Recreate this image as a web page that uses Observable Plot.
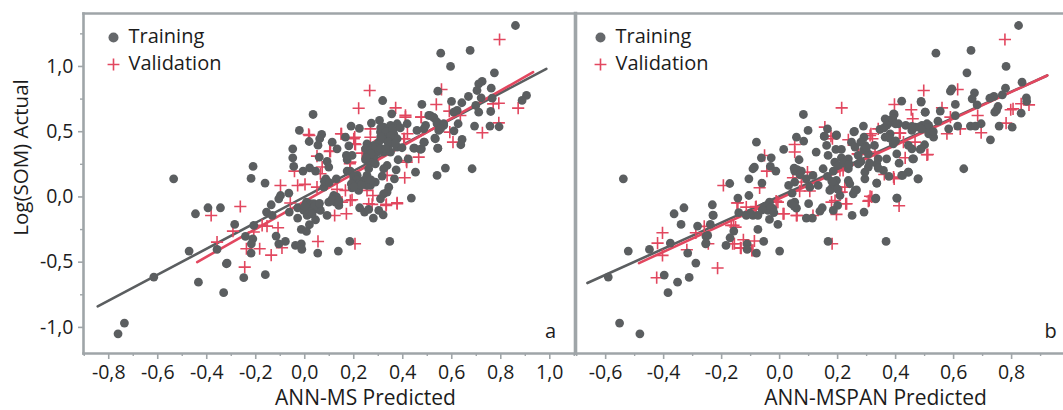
<!DOCTYPE html>
<html>
<head>
<meta charset="utf-8">
<script src="https://cdn.jsdelivr.net/npm/d3@7"></script>
<script src="https://cdn.jsdelivr.net/npm/@observablehq/plot@0.6"></script>
<style>
html,body{margin:0;padding:0;background:#fff;}
#chart{position:relative;width:1063px;height:410px;overflow:hidden;}
#chart svg{position:absolute;top:0;background:transparent;}
</style>
</head>
<body>
<div id="chart"></div>
<script>
const trainingA = [[.034,.632],[-.022,.51],[.069,.479],[.061,.446],[.018,.425],[.054,.397],[-.049,.369],[-.049,.3],[-.045,.234],[.059,.305],[.091,.272],[.098,.229],[-.007,.198],[.02,.223],[.044,.198],[-.211,.234],[-.219,.142],[-.162,.106],[.112,.42],[.132,.369],[.166,.458],[.189,.543],[.223,.525],[.18,.392],[.272,.566],[.305,.586],[.355,.637],[.322,.535],[.35,.548],[.377,.561],[.418,.561],[.336,.497],[.363,.484],[.322,.446],[.35,.433],[.377,.382],[.397,.377],[.254,.407],[.282,.395],[.248,.369],[.295,.344],[.322,.344],[.35,.344],[.282,.305],[.248,.285],[.268,.267],[.288,.254],[.173,.285],[.193,.318],[.17,.318],[.445,.374],[.476,.369],[.488,.42],[.458,.51],[.486,.522],[.506,.625],[.527,.607],[.54,.561],[.567,.561],[.547,.51],[.533,.446],[.543,.374],[.574,.221],[.54,.165],[.452,.19],[.422,.292],[.381,.285],[.336,.241],[.322,.216],[.373,.208],[.366,.139],[.316,.16],[.254,.165],[.261,.216],[.241,.126],[.214,.165],[.186,.198],[.173,.198],[.207,.114],[.193,.07],[.22,.05],[.288,.114],[.268,.088],[.343,.075],[.336,.037],[.322,.024],[.309,-.014],[.435,-.009],[.086,.139],[.084,.101],[.078,.075],[.129,.139],[-.065,.029],[-.099,.011],[-.106,-.014],[-.137,-.06],[-.156,-.116],[-.133,-.142],[-.063,-.116],[-.029,-.083],[-.029,-.162],[.007,-.04],[.023,-.052],[-.004,-.103],[.01,-.142],[.037,-.052],[.057,-.078],[.044,-.091],[.064,-.103],[.044,-.175],[.091,-.142],[.098,-.04],[.118,.011],[.125,-.04],[.139,-.065],[.224,-.083],[.244,-.116],[.261,-.096],[.302,-.103],[.32,-.137],[.28,-.162],[.019,-.213],[-.014,-.249],[.007,-.264],[.184,-.341],[.347,-.341],[.137,-.415],[.053,-.43],[-.014,-.359],[-.038,-.372],[-.012,-.402],[-.079,-.341],[-.106,-.359],[-.117,-.3],[-.208,-.218],[-.286,-.211],[-.242,-.303],[-.212,-.321],[-.218,-.359],[-.219,-.43],[-.32,-.512],[-.344,-.083],
[-.446,-.129],[-.395,-.083],[-.472,-.415],[-.358,-.402],[-.616,-.614],[-.434,-.653],[-.317,-.507],[-.331,-.734],[-.161,-.596],[-.249,-.619],[-.736,-.967],[-.762,-1.049],[-.535,.139],
[.86,1.314],[.555,1.102],[.675,1.123],[.595,1],[.774,.951],[.724,.885],[.71,.867],[.703,.816],[.761,.834],[.543,.811],[.599,.732],[.641,.722],[.668,.77],[.72,.76],[.765,.757],[.698,.701],[.71,.65],[.759,.655],[.905,.778],[.887,.74],[.622,.663],[.608,.65],[.478,.709],[.527,.607],[.513,.624],[.54,.573],[.567,.548],[.554,.522],[.493,.548],[.626,.561],[.693,.543],[.756,.543],[.793,.538],[.609,.507],[.531,.451],[.642,.441],[.637,.4],[.543,.372],[.486,.42],[.448,.374],[.472,.364],[.683,.216],[.318,.739],
[.309,.497],[.377,.446],[.343,.395],[.302,.42],[.268,.356],[.254,.318],[.227,.114],[.2,.139],[.214,.07],[.254,.088],[.03,-.091],[.016,-.091],
[.31,.53],[.33,.5],[.36,.52],[.39,.53],[.35,.47],[.31,.46],[.34,.42],[.37,.41],[.29,.38],[.31,.37],[.33,.37],[.27,.33],[.25,.3],[.2,.16],[.21,.13],[.22,.1],[.23,.09],[.19,.1],[.2,.08],[.27,.13],[.04,-.07],[.06,-.05],[.02,-.11],[.03,-.13],[0,-.07],[.13,0],[.11,-.02],[.14,-.03],[.08,.12],[.1,.11]];

const validationA = [[.016,.479],[.15,.484],[.204,.458],[.204,.407],[.102,.349],[.268,.458],[.234,.336],[.411,.625],[.476,.612],[.407,.446],[.465,.305],[.416,.267],[.408,.147],[.186,.267],[-.042,.198],[.071,.229],[.064,.178],[.05,.075],[-.099,.088],[-.029,.088],[.001,.096],[.132,.058],[.166,.05],[-.059,-.047],[-.263,-.073],[-.174,-.218],[-.154,-.224],[-.109,-.236],[-.208,-.269],[-.293,-.262],[-.238,-.397],[-.184,-.397],[-.137,-.446],[-.093,-.39],[.054,-.341],[.205,-.359],[-.245,-.538],[.122,-.142],[.17,-.129],[.377,-.052],[.332,-.065],[.261,-.052],[.278,.011],[.193,-.022],[.152,-.04],[.254,.05],[.336,.165],
[.795,1.207],[.265,.816],[.22,.68],[.558,.824],[.537,.709],[.59,.658],[.371,.683],[.411,.612],[.475,.612],[.635,.624],[.769,.713],[.792,.718],[.871,.681],[.792,.568],[.725,.492],[.605,.42],[.592,.497],[.415,.279],[.019,.471],[.148,.484],[.2,.446],[.207,.402],[.306,.433],[.404,.446],[.105,.351],[.05,.313],[.184,.254],[.268,.522],[.186,-.027],[.275,-.057],[.333,-.057],[.377,-.045],[.419,.484],
[-.382,-.142],[-.358,-.346]];

const trainingB = [[.082,.632],[.098,.51],[.058,.458],[.083,.428],[-.08,.42],[.014,.364],[-.063,.3],[-.029,.3],[.067,.285],[-.087,.229],[-.092,.216],[-.032,.234],[-.013,.198],[.063,.203],[.052,.198],[.075,.198],[-.106,.139],[-.172,.103],[-.061,.106],[-.106,.011],[-.144,-.009],[-.232,-.06],[-.23,-.139],[-.141,-.121],[-.115,-.142],[-.092,-.142],[-.075,-.142],[-.052,-.073],[-.035,-.04],[-.04,-.103],[-.023,-.091],[-.035,-.172],[-.006,-.211],[-.075,-.249],[-.239,-.211],[-.248,-.295],[-.255,-.359],[-.158,-.262],[-.171,-.313],[-.185,-.372],[-.112,-.359],[-.112,-.402],[-.08,-.43],[-.055,-.341],[0,-.415],[.167,-.341],[.367,-.341],[.291,-.116],[.25,-.142],[.332,-.009],[.405,-.009],[.477,.139],[.444,.19],[.421,.165],[.377,.157],[.335,.106],[.294,.139],[.294,.19],[.265,.054],[.254,.024],[.237,.126],[.242,.101],[.208,.011],[.2,-.065],[.185,-.103],[.147,-.083],[.139,-.109],[.113,-.162],[.092,-.162],[.1,-.052],[.052,-.04],[.058,-.086],[.04,-.052],[.043,.029],[.031,.088],[.052,.114],[.092,.139],[.115,.165],[.104,.075],[.133,.088],[.15,.216],[.185,.198],[.165,.157],[.196,.126],[.179,.063],[.173,.05],[.126,.344],[.162,.395],[.154,.466],[.165,.522],[.196,.476],[.167,.318],[.194,.364],[.213,.364],[.19,.267],[.213,.3],[.237,.292],[.237,.216],[.258,.502],[.248,.42],[.26,.382],[.271,.254],[.289,.543],[.291,.458],[.294,.395],[.306,.33],[.327,.395],[.34,.292],[.335,.254],[.358,.203],[.34,.221],[.369,.292],[.346,.517],[.364,.599],[.387,.573],[.41,.561],[.395,.632],[.381,.484],[.364,.458],[.392,.407],[.404,.33],[.412,.259],[.435,.548],[.421,.734],[.488,.727],[.502,.65],[.467,.535],[.491,.548],[.514,.548],[.456,.51],[.444,.395],[.456,.369],[.488,.369],[.459,.292],[.514,.484],[.271,.318],[.306,.229],
[-.539,.139],[-.33,-.083],[-.522,-.415],[-.591,-.614],[-.552,-.967],[-.482,-1.049],[-.449,-.402],[-.377,-.354],[-.398,-.599],[-.352,-.653],[-.312,-.617],[-.385,-.734],[-.317,-.43],[-.289,-.507],[-.364,-.129],[-.34,-.211],[-.283,-.223],[-.229,-.142],[-.254,-.303],[-.254,-.354],
[.824,1.314],[.539,1.102],[.66,1.123],[.646,.951],[.781,1],[.836,.88],[.779,.834],[.672,.798],[.594,.829],[.589,.811],[.768,.783],[.739,.77],[.725,.757],[.664,.752],[.681,.706],[.851,.76],[.852,.732],[.753,.693],[.748,.663],[.742,.65],[.833,.642],[.606,.709],[.488,.732],[.502,.65],[.554,.658],[.606,.624],[.614,.543],[.546,.581],[.583,.522],[.531,.458],[.658,.543],[.675,.543],[.695,.561],[.757,.543],[.802,.535],[.727,.438],[.635,.216],[.478,.139],[.444,.19],[.424,.165],[.462,.292],[.5,.4],[.485,.364],[.508,.561],[.479,.535],[.456,.54],[.375,.586],[.393,.637],[.256,.499],[.196,.471],[.154,.464],[.335,.106],[.331,-.014],[.404,-.009],[.26,.05],
[.37,.55],[.39,.6],[.4,.56],[.36,.53],[.38,.45],[.4,.43],[.28,.42],[.29,.36],[.3,.38],[.31,.26],[.28,.27],[.2,.24],[.22,.26],[.24,.25],[.19,.09],[.2,.06],[.18,.12],[-.03,-.08],[-.06,-.1],[-.02,-.12],[-.1,-.13],[.05,-.07],[.51,.53],[.53,.5],[.49,.52],[.06,.21],[.05,.22],[.07,.17]];

const validationB = [[.214,.683],[.396,.709],[.454,.668],[.459,.599],[.156,.535],[.182,.446],[.237,.438],[.315,.484],[.32,.446],[.34,.522],[.413,.489],[.427,.42],[.467,.42],[.052,.402],[.052,.344],[-.052,.318],[-.044,.198],[.269,.33],[.329,.344],[.433,.3],[.511,.325],[-.069,.07],[-.194,.088],[.046,.147],[.075,.114],[.096,.19],[.219,.203],[.361,.172],[.395,.139],[.069,.045],[.104,.045],[.225,.075],[.312,.005],[.306,-.032],[.231,-.052],[.412,-.068],[.179,-.04],[.196,-.134],[.115,-.142],[.06,-.142],[.015,-.129],[-.012,-.032],[-.083,-.078],[-.115,-.078],[-.147,-.047],[-.167,-.218],[-.152,-.231],[-.26,-.226],[-.246,-.359],[-.162,-.359],[-.135,-.39],[-.125,-.328],[-.087,-.338],[-.092,-.41],[.181,-.359],
[.777,1.207],[.497,.816],[.614,.824],[.56,.683],[.683,.624],[.589,.612],[.695,.492],[.781,.566],[.797,.668],[.805,.675],[.833,.714],[.86,.706],[.577,.484],[.623,.522],[.508,.323],[.416,.489],[.312,.471],[.177,.466],[.273,.326],[.393,.152],[.318,.001],[.309,-.027],[.214,.037],[.191,-.027],[.228,-.052],[.208,.203],
[-.404,-.275],[-.421,-.354],[-.404,-.448],[-.424,-.619],[-.214,-.545],[-.32,-.405],[-.289,-.275],[-.133,-.392],[-.159,-.218],[-.156,-.359],[-.096,-.41],[-.144,-.045],[-.081,-.073],[-.006,-.04],[.012,-.129],[.058,-.142]];

const fitTrainingA = [[-.845,-.839],[.986,.982]];
const fitValidationA = [[-.439,-.499],[.932,.956]];
const fitTrainingB = [[-.663,-.66],[.923,.931]];
const fitValidationB = [[-.485,-.507],[.923,.931]];

const xTicksA = [-.8,-.6,-.4,-.2,0,.2,.4,.6,.8,1];
const xMinorA = [-.9,-.7,-.5,-.3,-.1,.1,.3,.5,.7,.9,1.1];
const xTicksB = [-.6,-.4,-.2,0,.2,.4,.6,.8];
const xMinorB = [-.7,-.5,-.3,-.1,.1,.3,.5,.7,.9];
const yTicks = [-1,-.5,0,.5,1];
const yMinor = [-.75,-.25,.25,.75,1.25];
const seriesNames = ["Training","Validation"];

const GREY = "#5b5e60", RED = "#e2475f", FRAME = "#9fa5a8", INK = "#1c1c1c";
const FONT = "'Open Sans', sans-serif";
const fmt = d => d.toFixed(1).replace(".", ",");
const blank = () => "";

function panel({width, marginLeft, xDomain, training, validation, fitT, fitV, xTicks, xMinor, xLabel, xLabelDx, tag, tagDx, legendDx, frames, showY, left}) {
  const marks = [
    Plot.line(fitT, {x: d => d[0], y: d => d[1], stroke: GREY, strokeWidth: 2.6}),
    Plot.line(fitV, {x: d => d[0], y: d => d[1], stroke: RED, strokeWidth: 2.6}),
    Plot.dot(validation, {x: d => d[0], y: d => d[1], symbol: "plus", r: 4, stroke: RED, strokeWidth: 1.6}),
    Plot.dot(training, {x: d => d[0], y: d => d[1], r: 4.4, fill: GREY}),
    Plot.axisX({ticks: xTicks, tickSize: 6, tickPadding: 6, tickFormat: fmt, stroke: FRAME, fill: INK, strokeWidth: 1.6, fontSize: 19.5, label: null}),
    Plot.axisX({ticks: xMinor, tickSize: 3, tickFormat: blank, stroke: FRAME, strokeWidth: 1.4, label: null}),
    Plot.text([xLabel], {text: d => d, frameAnchor: "bottom", dx: xLabelDx, dy: 45, textAnchor: "middle", lineAnchor: "middle", fontSize: 21, fill: INK}),
    Plot.dot([seriesNames[0]], {frameAnchor: "top-left", dx: legendDx, dy: 24, r: 5, fill: "#65686b"}),
    Plot.dot([seriesNames[1]], {frameAnchor: "top-left", dx: legendDx, dy: 51, symbol: "plus", r: 3.9, stroke: RED, strokeWidth: 1.6}),
    Plot.text([seriesNames[0]], {text: d => d, frameAnchor: "top-left", dx: legendDx + 15, dy: 23, textAnchor: "start", lineAnchor: "middle", fontSize: 20, fill: INK}),
    Plot.text([seriesNames[1]], {text: d => d, frameAnchor: "top-left", dx: legendDx + 15, dy: 50, textAnchor: "start", lineAnchor: "middle", fontSize: 20, fill: INK}),
    Plot.text([tag], {text: d => d, frameAnchor: "bottom-right", dx: tagDx, dy: -22, textAnchor: "middle", lineAnchor: "middle", fontSize: 20, fill: INK}),
    ...frames.map(f => Plot.frame({anchor: f[0], stroke: FRAME, strokeWidth: f[1]}))
  ];
  if (showY) {
    marks.push(
      Plot.axisY({ticks: yTicks, tickSize: 5, tickPadding: 5, tickFormat: fmt, stroke: FRAME, fill: INK, strokeWidth: 1.6, fontSize: 19.5, label: null}),
      Plot.axisY({ticks: yMinor, tickSize: 3, tickFormat: blank, stroke: FRAME, strokeWidth: 1.4, label: null}),
      Plot.text(["Log(SOM) Actual"], {text: d => d, frameAnchor: "top-left", dx: -62, dy: 144, rotate: -90, textAnchor: "middle", lineAnchor: "middle", fontSize: 20.5, fill: INK})
    );
  } else {
    marks.push(Plot.axisY({ticks: [], label: null}));
  }
  const svg = Plot.plot({
    width, height: 410, marginLeft, marginRight: 2, marginTop: 13, marginBottom: 57,
    style: {fontFamily: FONT, background: "transparent", overflow: "visible"},
    x: {domain: xDomain},
    y: {domain: [-1.2, 1.406]},
    marks
  });
  svg.style.left = left + "px";
  return svg;
}

const chart = document.getElementById("chart");
chart.appendChild(panel({
  width: 577, marginLeft: 83, xDomain: [-.903, 1.105], training: trainingA, validation: validationA,
  fitT: fitTrainingA, fitV: fitValidationA, xTicks: xTicksA, xMinor: xMinorA, xLabel: "ANN-MS Predicted", xLabelDx: 36,
  tag: "a", tagDx: -25, legendDx: 30, frames: [["left", 2.6], ["top", 2.6], ["bottom", 2.6], ["right", 3.6]], showY: true, left: 0
}));
chart.appendChild(panel({
  width: 490, marginLeft: 0, xDomain: [-.704, .979], training: trainingB, validation: validationB,
  fitT: fitTrainingB, fitV: fitValidationB, xTicks: xTicksB, xMinor: xMinorB, xLabel: "ANN-MSPAN Predicted", xLabelDx: 56,
  tag: "b", tagDx: -13, legendDx: 25, frames: [["top", 2.6], ["bottom", 2.6]], showY: false, left: 575
}));
</script>
</body>
</html>
